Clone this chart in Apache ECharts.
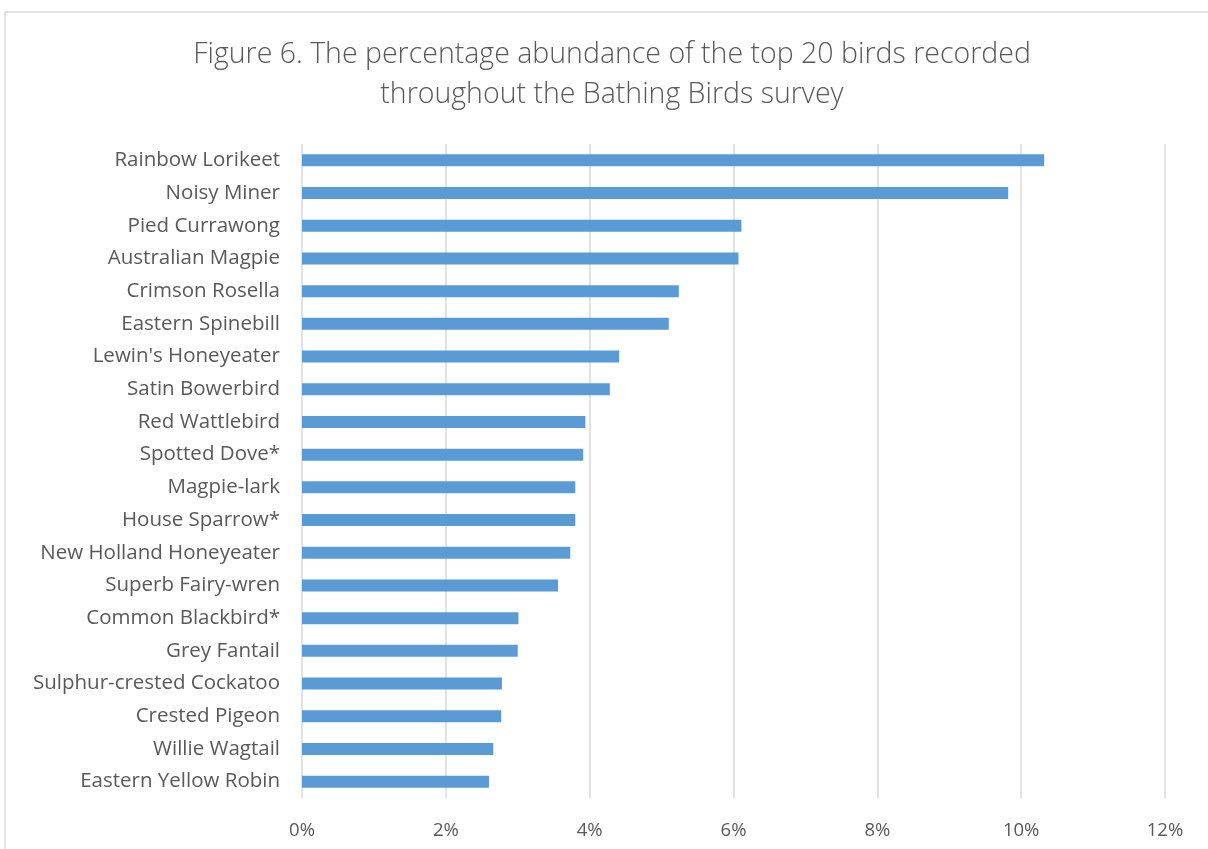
<!DOCTYPE html>
<html><head><meta charset="utf-8">
<script src="https://cdn.jsdelivr.net/npm/echarts@6/dist/echarts.min.js"></script>
<style>html,body{margin:0;padding:0;background:#fff;}#c{width:1208px;height:849px;}</style>
</head><body><div id="c"></div>
<script>
const titleText = 'Figure 6. The percentage abundance of the top 20 birds recorded\nthroughout the Bathing Birds survey';
const categories = ['Rainbow Lorikeet','Noisy Miner','Pied Currawong','Australian Magpie','Crimson Rosella','Eastern Spinebill',"Lewin's Honeyeater",'Satin Bowerbird','Red Wattlebird','Spotted Dove*','Magpie-lark','House Sparrow*','New Holland Honeyeater','Superb Fairy-wren','Common Blackbird*','Grey Fantail','Sulphur-crested Cockatoo','Crested Pigeon','Willie Wagtail','Eastern Yellow Robin'];
const values = [10.32,9.82,6.11,6.07,5.24,5.10,4.41,4.28,3.94,3.91,3.80,3.80,3.73,3.56,3.01,3.00,2.78,2.77,2.66,2.60];
const xTicks = [0,2,4,6,8,10,12];

const font = '"Open Sans", sans-serif';
const chart = echarts.init(document.getElementById('c'));
chart.setOption({
  animation:false,
  backgroundColor:'#fff',
  graphic:[{type:'rect',shape:{x:5,y:12,width:1230,height:900},style:{fill:'none',stroke:'#d9d9d9',lineWidth:1.5},silent:true}],
  title:{text:titleText,left:607,top:30,padding:5,textAlign:'center',textStyle:{fontFamily:font,fontWeight:300,fontSize:28.5,color:'#595959',lineHeight:40}},
  grid:{left:302,right:43,top:144,bottom:51,containLabel:false},
  xAxis:{type:'value',min:0,max:12,interval:2,
    axisLine:{show:false},axisTick:{show:false},
    axisLabel:{formatter:v=>xTicks.includes(v)?v+'%':'',fontFamily:font,fontSize:18.5,color:'#595959',margin:23},
    splitLine:{lineStyle:{color:'#d9d9d9',width:1.5}}},
  yAxis:{type:'category',data:categories,inverse:true,
    axisLine:{show:false},axisTick:{show:false},
    axisLabel:{fontFamily:font,fontSize:20.5,color:'#595959',margin:22}},
  series:[{type:'bar',data:values,barWidth:12,itemStyle:{color:'#5B9BD5'}}]
});
</script></body></html>
